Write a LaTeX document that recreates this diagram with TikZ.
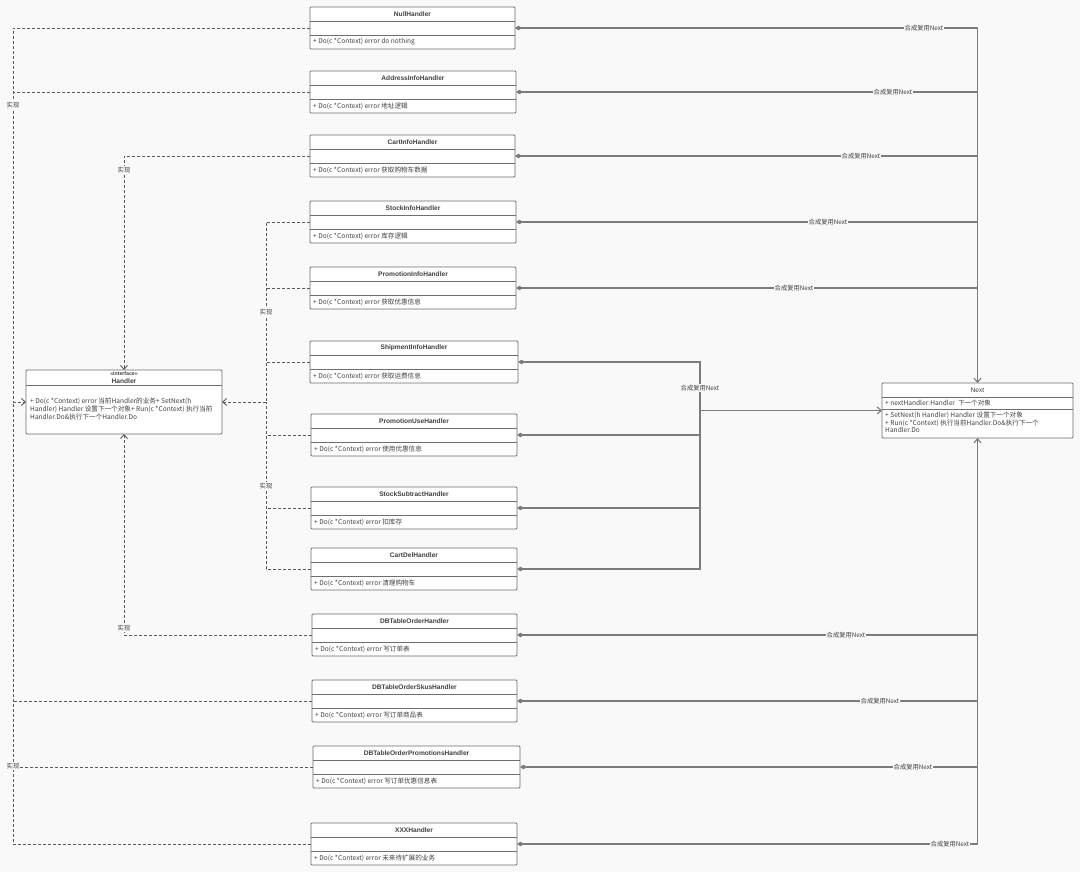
\documentclass[tikz,border=0pt]{standalone}
\usepackage{fontspec}
\usepackage{tikz}
\usetikzlibrary{arrows.meta, positioning}
\newfontfamily\cjkfont{Noto Sans CJK SC}
\newfontfamily\titlefont{Liberation Sans}
\definecolor{canvasbg}{HTML}{F9F9F9}
\definecolor{boxline}{HTML}{6E6E6E}
\definecolor{linkgray}{HTML}{7C7C7C}
\definecolor{dashgray}{HTML}{5A5A5A}
\definecolor{textgray}{HTML}{404040}

% one handler class: name, left, top, width, title, method
\newcommand{\handlerclass}[6]{%
  \node[classbox, minimum width=#4, anchor=north west] (#1) at (#2,#3) {};
  \draw[classrule] ([yshift=-14]#1.north west) -- ([yshift=-14]#1.north east);
  \draw[classrule] ([yshift=-28]#1.north west) -- ([yshift=-28]#1.north east);
  \node[classtitle] (#1-title) at ([yshift=-7]#1.north) {#5};
  \node[classmethod, anchor=west] (#1-method) at ([xshift=3,yshift=-35]#1.north west) {#6};
  \coordinate (#1-l) at ([yshift=-21]#1.north west);
  \coordinate (#1-r) at ([yshift=-21]#1.north east);
}

\begin{document}
\begin{tikzpicture}[
    x=1pt, y=-1pt,
    CompDiamond/.tip={Diamond[length=7pt,width=4.5pt]},
    OpenHead/.tip={Straight Barb[length=4pt,width=7pt]},
    classbox/.style={draw=boxline, fill=white, line width=0.8pt, rounded corners=1pt,
        inner sep=0pt, outer sep=0pt, minimum height=42},
    classrule/.style={draw=boxline, line width=0.8pt},
    classtitle/.style={font=\titlefont\bfseries\fontsize{6.6}{7.5}\selectfont, text=textgray, inner sep=0pt},
    classmethod/.style={font=\cjkfont\fontsize{6.6}{8}\selectfont, text=textgray, inner sep=0pt},
    realize/.style={draw=dashgray, dash pattern=on 3pt off 2pt, line width=0.9pt},
    compose/.style={draw=linkgray, line width=1.1pt},
    linklabel/.style={font=\cjkfont\fontsize{6.3}{7}\selectfont, text=textgray, fill=canvasbg, inner sep=0.6pt}
]

\fill[canvasbg] (0,0) rectangle (1080,872);
\useasboundingbox (0,0) rectangle (1080,872);

% interface and Next
\node[classbox, minimum width=196, minimum height=64, anchor=north west] (handler) at (26,370) {};
\draw[classrule] ([yshift=-15]handler.north west) -- ([yshift=-15]handler.north east);
\node[classtitle, font=\titlefont\bfseries\fontsize{5.2}{6}\selectfont] (handler-stereo) at ([yshift=-4]handler.north) {«interface»};
\node[classtitle] (handler-title) at ([yshift=-11]handler.north) {Handler};
\node[classmethod, anchor=north west, align=left] (handler-method) at ([xshift=4,yshift=-28]handler.north west)
    {+ Do(c *Context) error 当前Handler的业务+ SetNext(h\\Handler) Handler 设置下一个对象+ Run(c *Context) 执行当前\\Handler.Do\&执行下一个Handler.Do};

\node[classbox, minimum width=191, minimum height=55, anchor=north west] (next) at (882,383) {};
\draw[classrule] ([yshift=-14]next.north west) -- ([yshift=-14]next.north east);
\draw[classrule] ([yshift=-26]next.north west) -- ([yshift=-26]next.north east);
\node[classtitle, font=\titlefont\fontsize{6.6}{7.5}\selectfont] (next-title) at ([yshift=-7]next.north) {Next};
\node[classmethod, anchor=west] (next-attr) at ([xshift=3,yshift=-20]next.north west) {+ nextHandler:Handler\ \ 下一个对象};
\node[classmethod, anchor=north west, align=left, font=\cjkfont\fontsize{6.6}{7.4}\selectfont] (next-method) at ([xshift=3,yshift=-29]next.north west)
    {+ SetNext(h Handler) Handler 设置下一个对象\\+ Run(c *Context) 执行当前Handler.Do\&执行下一个\\Handler.Do};

% handlers
\handlerclass{null}{310}{7}{205}{NullHandler}{+ Do(c *Context) error do nothing}
\handlerclass{address}{310}{71}{206}{AddressInfoHandler}{+ Do(c *Context) error 地址逻辑}
\handlerclass{cartinfo}{310}{135}{205}{CartInfoHandler}{+ Do(c *Context) error 获取购物车数据}
\handlerclass{stockinfo}{310}{201}{206}{StockInfoHandler}{+ Do(c *Context) error 库存逻辑}
\handlerclass{promoinfo}{310}{267}{206}{PromotionInfoHandler}{+ Do(c *Context) error 获取优惠信息}
\handlerclass{shipinfo}{310}{341}{208}{ShipmentInfoHandler}{+ Do(c *Context) error 获取运费信息}
\handlerclass{promouse}{311}{414}{206}{PromotionUseHandler}{+ Do(c *Context) error 使用优惠信息}
\handlerclass{stocksub}{311}{487}{206}{StockSubtractHandler}{+ Do(c *Context) error 扣库存}
\handlerclass{cartdel}{311}{548}{206}{CartDelHandler}{+ Do(c *Context) error 清理购物车}
\handlerclass{dborder}{312}{614}{205}{DBTableOrderHandler}{+ Do(c *Context) error 写订单表}
\handlerclass{dbskus}{312}{680}{205}{DBTableOrderSkusHandler}{+ Do(c *Context) error 写订单商品表}
\handlerclass{dbpromo}{313}{746}{207}{DBTableOrderPromotionsHandler}{+ Do(c *Context) error 写订单优惠信息表}
\handlerclass{xxx}{311}{823}{206}{XXXHandler}{+ Do(c *Context) error 未来待扩展的业务}

\coordinate (realA) at (13,402);
\coordinate (realD) at (266,402);
\coordinate (compMid) at (700,410.5);

% realization
\draw[realize] (null-l) -| (realA);
\draw[realize] (xxx-l) -| (realA);
\draw[realize] (address-l) -- (address-l -| realA);
\draw[realize] (dbskus-l) -- (dbskus-l -| realA);
\draw[realize] (dbpromo-l) -- (dbpromo-l -| realA);
\draw[realize, -OpenHead] (realA) -- (handler.west);

\draw[realize, -OpenHead] (cartinfo-l) -| (handler.north);
\draw[realize, -OpenHead] (dborder-l) -| (handler.south);

\draw[realize] (stockinfo-l) -| (realD);
\draw[realize] (cartdel-l) -| (realD);
\draw[realize] (promoinfo-l) -- (promoinfo-l -| realD);
\draw[realize] (shipinfo-l) -- (shipinfo-l -| realD);
\draw[realize] (promouse-l) -- (promouse-l -| realD);
\draw[realize] (stocksub-l) -- (stocksub-l -| realD);
\draw[realize, -OpenHead] (realD) -- (handler.east);

% composition
\draw[compose, CompDiamond-OpenHead] (null-r) -| (next.north);
\draw[compose, CompDiamond-] (address-r) -- (address-r -| next.north);
\draw[compose, CompDiamond-] (cartinfo-r) -- (cartinfo-r -| next.north);
\draw[compose, CompDiamond-] (stockinfo-r) -- (stockinfo-r -| next.north);
\draw[compose, CompDiamond-] (promoinfo-r) -- (promoinfo-r -| next.north);

\draw[compose, CompDiamond-] (shipinfo-r) -| (compMid);
\draw[compose, CompDiamond-] (cartdel-r) -| (compMid);
\draw[compose, CompDiamond-] (promouse-r) -- (promouse-r -| compMid);
\draw[compose, CompDiamond-] (stocksub-r) -- (stocksub-r -| compMid);
\draw[compose, -OpenHead] (compMid) -- (next.west);

\draw[compose, CompDiamond-OpenHead] (xxx-r) -| (next.south);
\draw[compose, CompDiamond-] (dborder-r) -- (dborder-r -| next.south);
\draw[compose, CompDiamond-] (dbskus-r) -- (dbskus-r -| next.south);
\draw[compose, CompDiamond-] (dbpromo-r) -- (dbpromo-r -| next.south);

% labels
\node[linklabel] (lbl-null) at (924,28) {合成复用Next};
\node[linklabel] (lbl-address) at (893,92) {合成复用Next};
\node[linklabel] (lbl-cartinfo) at (861,156) {合成复用Next};
\node[linklabel] (lbl-stockinfo) at (828,222) {合成复用Next};
\node[linklabel] (lbl-promoinfo) at (794,288) {合成复用Next};
\node[linklabel] (lbl-mid) at (700,388) {合成复用Next};
\node[linklabel] (lbl-dborder) at (846,635) {合成复用Next};
\node[linklabel] (lbl-dbskus) at (880,701) {合成复用Next};
\node[linklabel] (lbl-dbpromo) at (913,767) {合成复用Next};
\node[linklabel] (lbl-xxx) at (950,844) {合成复用Next};

\node[linklabel] (impl-a) at (13,105) {实现};
\node[linklabel] (impl-b) at (124,170) {实现};
\node[linklabel] (impl-c) at (266,312) {实现};
\node[linklabel] (impl-d) at (266,486) {实现};
\node[linklabel] (impl-e) at (124,628) {实现};
\node[linklabel] (impl-f) at (13,766) {实现};

\end{tikzpicture}
\end{document}
